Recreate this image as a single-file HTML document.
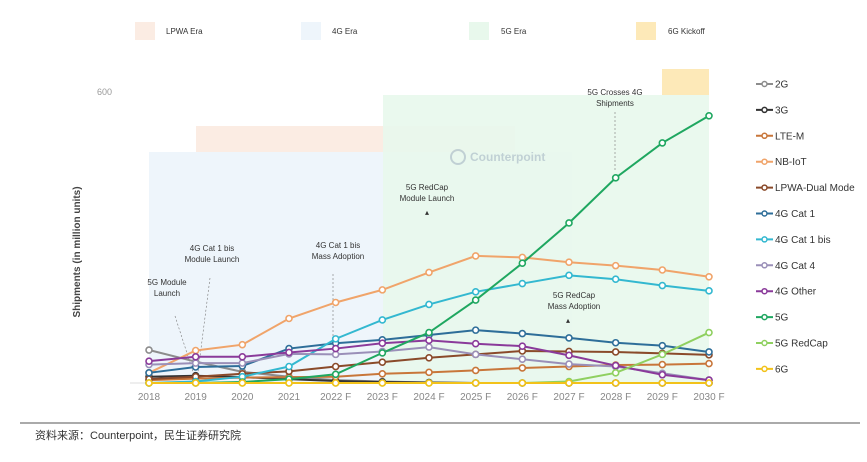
<!DOCTYPE html>
<html><head><meta charset="utf-8"><style>
html,body{margin:0;padding:0;background:#fff;}
body{width:867px;height:457px;overflow:hidden;font-family:"Liberation Sans","Noto Sans CJK SC",sans-serif;}
svg text{font-family:"Liberation Sans","Noto Sans CJK SC",sans-serif;}
</style></head><body>
<svg id="chart" width="867" height="457" viewBox="0 0 867 457" xmlns="http://www.w3.org/2000/svg">
<g id="bg">
  <rect x="149" y="152" width="423" height="231" fill="#eef5fb"/>
  <rect x="196" y="126" width="319" height="26" fill="#fbece3"/>
  <rect x="383" y="95" width="326" height="288" fill="#e8f8ec" opacity="0.9"/>
  <rect x="662" y="69" width="47" height="26" fill="#fde9b8"/>
</g>
<g font-size="8" fill="#333">
  <rect x="135" y="22" width="20" height="18" fill="#fbece3"/><text x="166" y="34">LPWA Era</text>
  <rect x="301" y="22" width="20" height="18" fill="#eef5fb"/><text x="332" y="34">4G Era</text>
  <rect x="469" y="22" width="20" height="18" fill="#e8f8ec"/><text x="501" y="34">5G Era</text>
  <rect x="636" y="22" width="20" height="18" fill="#fde9b8"/><text x="668" y="34">6G Kickoff</text>
</g>
<text x="97" y="95" font-size="9" fill="#999">600</text>
<line x1="130" y1="383" x2="712" y2="383" stroke="#ddd" stroke-width="1"/>
<text transform="translate(80,252) rotate(-90)" text-anchor="middle" font-size="10" font-weight="bold" fill="#444">Shipments (in million units)</text>
<g opacity="0.5">
  <circle cx="458" cy="157" r="7" fill="none" stroke="#9ab" stroke-width="2"/>
  <text x="470" y="161" font-size="12" font-weight="bold" fill="#9ab">Counterpoint</text>
</g>
<g font-size="8" fill="#333" text-anchor="middle">
  <text x="615" y="95">5G Crosses 4G</text><text x="615" y="106">Shipments</text>
  <line x1="615" y1="112" x2="615" y2="170" stroke="#777" stroke-width="0.6" stroke-dasharray="2,2"/>
  <text x="427" y="190">5G RedCap</text><text x="427" y="201">Module Launch</text>
  <text x="427" y="215">▴</text>
  <text x="212" y="251">4G Cat 1 bis</text><text x="212" y="262">Module Launch</text>
  <line x1="210" y1="278" x2="197" y2="380" stroke="#777" stroke-width="0.6" stroke-dasharray="2,2"/>
  <text x="338" y="248">4G Cat 1 bis</text><text x="338" y="259">Mass Adoption</text>
  <line x1="333" y1="274" x2="333" y2="338" stroke="#777" stroke-width="0.6" stroke-dasharray="2,2"/>
  <text x="167" y="285">5G Module</text><text x="167" y="296">Launch</text>
  <line x1="175" y1="316" x2="195" y2="378" stroke="#777" stroke-width="0.6" stroke-dasharray="2,2"/>
  <text x="574" y="298">5G RedCap</text><text x="574" y="309">Mass Adoption</text>
  <text x="568" y="323">▴</text>
</g>
<g id="series"></g>
<g id="xlabels" font-size="10" fill="#888" text-anchor="middle"></g>
<g id="legend" font-size="10" fill="#333"></g>
<line x1="20" y1="423" x2="860" y2="423" stroke="#555" stroke-width="1"/>
<text x="35" y="439" font-size="11" fill="#333">资料来源：Counterpoint，民生证券研究院</text>
</svg>
<script>
const categories = ["2018","2019","2020","2021","2022 F","2023 F","2024 F","2025 F","2026 F","2027 F","2028 F","2029 F","2030 F"];
const seriesNames = ["2G","3G","LTE-M","NB-IoT","LPWA-Dual Mode","4G Cat 1","4G Cat 1 bis","4G Cat 4","4G Other","5G","5G RedCap","6G"];
const seriesColors = ["#8c8c8c","#333333","#c8763a","#f0a46a","#8a4a2a","#2e6e99","#33b8d0","#9a8fb8","#8a3a9a","#1fa760","#8fd060","#f2c21a"];
const v2G = [68,44,23,13,6,3,1,0,0,0,0,0,0];
const v3G = [13,15,12,8,4,2,1,0,0,0,0,0,0];
const vLTEM = [6,9,11,12,13,19,22,26,31,34,37,38,40];
const vNBIoT = [21,67,79,133,166,192,228,262,259,249,242,233,219];
const vDual = [8,13,19,24,34,43,52,59,66,65,64,61,58];
const vCat1 = [21,33,35,71,82,89,99,109,102,93,83,77,64];
const vCat1bis = [0,3,13,34,91,130,162,188,205,222,214,201,190];
const vCat4 = [38,41,41,60,59,65,74,59,49,39,34,20,6];
const vOther = [45,54,54,63,71,82,88,81,76,57,36,17,6];
const v5G = [0,0,2,8,18,62,104,171,247,330,423,495,551];
const vRedCap = [0,0,0,0,0,0,0,0,0,3,21,59,104];
const v6G = [0,0,0,0,0,0,0,0,0,0,0,0,0];
const allSeries = [v2G,v3G,vLTEM,vNBIoT,vDual,vCat1,vCat1bis,vCat4,vOther,v5G,vRedCap,v6G];

const NS = "http://www.w3.org/2000/svg";
function xScale(i){ return 149 + i*(709-149)/(categories.length-1); }
function yScale(v){ return 383 - v*(383-92)/600; }

const sg = document.getElementById("series");
allSeries.forEach((vals, s) => {
  const g = document.createElementNS(NS,"g");
  
  
  const pl = document.createElementNS(NS,"polyline");
  pl.setAttribute("points", vals.map((v,i)=>xScale(i)+","+yScale(v)).join(" "));
  pl.setAttribute("fill","none");
  pl.setAttribute("stroke",seriesColors[s]);
  pl.setAttribute("stroke-width","2");
  
  
  g.appendChild(pl);
  vals.forEach((v,i)=>{
    const c = document.createElementNS(NS,"circle");
    c.setAttribute("cx",xScale(i)); c.setAttribute("cy",yScale(v)); c.setAttribute("r","3");
    c.setAttribute("fill","#fff"); c.setAttribute("stroke",seriesColors[s]); c.setAttribute("stroke-width","1.6");
    
    
    g.appendChild(c);
  });
  sg.appendChild(g);
});

const xg = document.getElementById("xlabels");
categories.forEach((c,i)=>{
  const t = document.createElementNS(NS,"text");
  t.setAttribute("x",xScale(i)); t.setAttribute("y","400");
  t.textContent = c;
  
  
  xg.appendChild(t);
});

const lg = document.getElementById("legend");
seriesNames.forEach((n,s)=>{
  const y = 84 + s*25.9;
  const g = document.createElementNS(NS,"g");
  
  
  const l = document.createElementNS(NS,"line");
  l.setAttribute("x1","756"); l.setAttribute("x2","773"); l.setAttribute("y1",y); l.setAttribute("y2",y);
  l.setAttribute("stroke",seriesColors[s]); l.setAttribute("stroke-width","2");
  g.appendChild(l);
  const c = document.createElementNS(NS,"circle");
  c.setAttribute("cx","764.5"); c.setAttribute("cy",y); c.setAttribute("r","2.5");
  c.setAttribute("fill","#fff"); c.setAttribute("stroke",seriesColors[s]); c.setAttribute("stroke-width","1.5");
  g.appendChild(c);
  const t = document.createElementNS(NS,"text");
  t.setAttribute("x","775"); t.setAttribute("y",y+3.5);
  t.textContent = n;
  g.appendChild(t);
  lg.appendChild(g);
});
</script>
</body></html>
